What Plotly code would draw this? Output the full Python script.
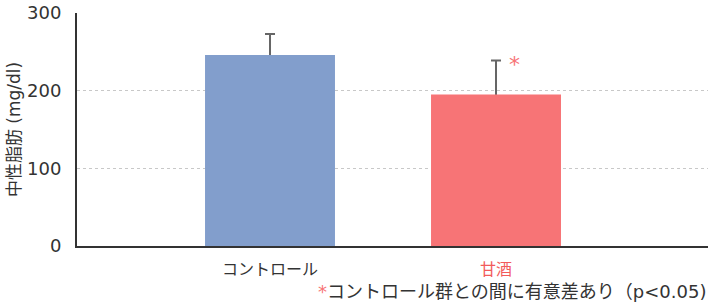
import plotly.graph_objects as go

categories = ["コントロール", "甘酒"]
values = [246, 195]
errors = [27, 44]
colors = ["#829ECC", "#F77476"]
label_colors = ["#333333", "#F25B5B"]
y_ticks = [0, 100, 200, 300]

FONT = "Verdana, 'DejaVu Sans', 'Noto Sans CJK JP', sans-serif"

fig = go.Figure()
# transparent bars carrying the error bars (lower cap hidden under the coloured bars)
fig.add_trace(go.Bar(
    x=categories, y=values, width=0.575,
    marker=dict(color="rgba(0,0,0,0)", line=dict(width=0)),
    error_y=dict(type="data", array=errors, arrayminus=[15, 15], symmetric=False,
                 color="#666666", thickness=2, width=5),
    hoverinfo="skip",
))
fig.add_trace(go.Bar(
    x=categories, y=values, width=0.575,
    marker=dict(color=colors, line=dict(width=0)),
))

for c, col in zip(categories, label_colors):
    fig.add_annotation(x=c, y=0, xref="x", yref="y", text=c, showarrow=False,
                       yanchor="top", yshift=-12,
                       font=dict(family=FONT, size=16, color=col))

fig.add_annotation(x=1.084, y=values[1] + errors[1], xref="x", yref="y", text="*",
                   showarrow=False, yanchor="middle", yshift=-4,
                   font=dict(family=FONT, size=22, color="#F77476"))

fig.add_annotation(x=1, y=-0.196, xref="paper", yref="paper",
                   text="<span style='color:#F77476'>*</span>コントロール群との間に有意差あり（p<0.05)",
                   showarrow=False, xanchor="right", yanchor="middle",
                   font=dict(family=FONT, size=18, color="#333333"))

fig.update_layout(
    width=710, height=305,
    margin=dict(l=77, r=2, t=11, b=59),
    paper_bgcolor="white", plot_bgcolor="white",
    showlegend=False, barmode="overlay",
    xaxis=dict(range=[-0.854, 1.938], showticklabels=False, ticks="",
               showline=True, linecolor="#333333", linewidth=2, showgrid=False,
               zeroline=False),
    yaxis=dict(range=[0, 300], tickvals=y_ticks, ticks="",
               showline=True, linecolor="#333333", linewidth=2,
               showgrid=True, gridcolor="#C8C8C8", griddash="dot", gridwidth=1,
               zeroline=False, tickfont=dict(family=FONT, size=18, color="#333333"),
               ticklabelstandoff=10,
               title=dict(text="中性脂肪 (mg/dl)", standoff=2,
                          font=dict(family=FONT, size=17, color="#333333"))),
)

fig.write_html("out.html")
